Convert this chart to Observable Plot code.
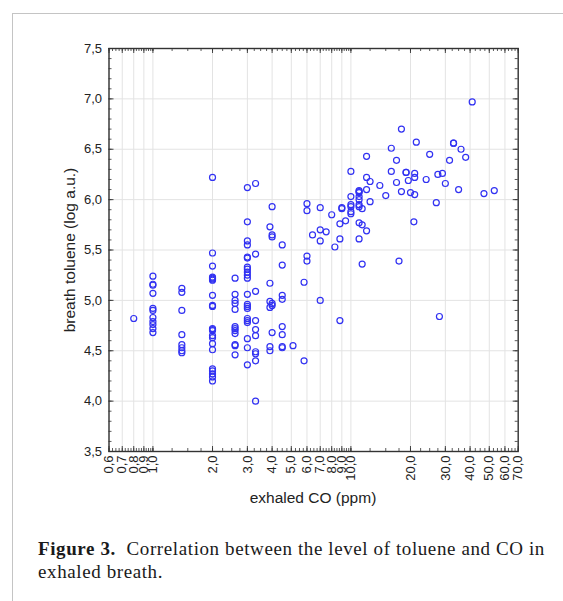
<!DOCTYPE html>
<html><head><meta charset="utf-8">
<script src="https://cdn.jsdelivr.net/npm/d3@7"></script>
<script src="https://cdn.jsdelivr.net/npm/@observablehq/plot@0.6"></script>
<style>
body{margin:0;background:#fff;}
#wrap{position:relative;width:563px;height:601px;overflow:hidden;background:#fff;}
#border{position:absolute;left:12px;top:13px;width:620px;height:700px;border-left:1px solid #c4c4c4;border-top:1px solid #c4c4c4;}
#chart{position:absolute;left:0;top:0;}
#caption{position:absolute;left:38px;top:537px;white-space:nowrap;font-family:"Liberation Serif","Times New Roman",serif;font-size:19px;letter-spacing:0.6px;line-height:23px;color:#1a1a1a;}
</style></head><body>
<div id="wrap"><div id="border"></div><div id="chart"></div>
<div id="caption"><b>Figure 3.</b>&nbsp; Correlation between the level of toluene and CO in<br>exhaled breath.</div></div>
<script>
// exhaled CO (ppm)
const coPpm = [
  0.8,
  1,1,1,1,1,1,1,1,1,1,1,
  1.4,1.4,1.4,1.4,1.4,1.4,1.4,1.4,
  2,2,2,2,2,2,2,2,2,2,2,2,2,2,2,2,2,2,2,2,2,2,
  2.6,2.6,2.6,2.6,2.6,2.6,2.6,2.6,2.6,2.6,2.6,2.6,
  3,3,3,3,3,3,3,3,3,3,3,3,3,3,3,3,3,3,3,3,3,
  3.3,3.3,3.3,3.3,3.3,3.3,3.3,3.3,3.3,3.3,
  3.9,3.9,3.9,3.9,3.9,3.9,
  4,4,4,4,4,4,
  4.5,4.5,4.5,4.5,4.5,4.5,4.5,4.5,
  5.1,
  5.8,5.8,
  6,6,6,6,
  6.4,
  7,7,7,7,
  7.5, 8, 8.3,
  8.8,8.8,8.8,
  9,9, 9.4,
  10,10,10,10,10,10,
  11,11,11,11,11,11,11,11,11,
  11.4,11.4,11.4,
  12,12,12,12,
  12.5,12.5,
  14, 15, 16,16, 17,17, 17.5, 18,18, 19,19, 19.5, 20,
  21,21,21, 20.8, 21.4, 24, 25, 27, 27.5, 28, 29, 30, 31.5,
  33,33, 35, 36, 38, 41, 47, 53
];
// breath toluene (log a.u.)
const toluene = [
  4.82,
  5.24,5.16,5.15,5.07,4.92,4.90,4.83,4.79,4.76,4.72,4.68,
  5.12,5.08,4.90,4.66,4.56,4.53,4.50,4.48,
  6.22,5.47,5.34,5.23,5.22,5.21,5.20,5.05,4.95,4.94,4.72,4.71,4.70,4.65,4.63,4.57,4.51,4.32,4.30,4.27,4.24,4.20,
  5.22,5.06,5.00,4.97,4.91,4.74,4.72,4.70,4.67,4.56,4.55,4.46,
  6.12,5.78,5.59,5.55,5.43,5.42,5.33,5.31,5.28,5.25,5.22,5.06,4.96,4.94,4.92,4.82,4.80,4.78,4.62,4.53,4.36,
  6.16,5.46,5.09,4.80,4.71,4.65,4.49,4.47,4.40,4.00,
  5.73,5.17,4.99,4.93,4.54,4.50,
  5.93,5.65,5.63,4.97,4.95,4.68,
  5.55,5.35,5.05,5.01,4.74,4.66,4.54,4.53,
  4.55,
  5.18,4.40,
  5.96,5.89,5.44,5.39,
  5.65,
  5.92,5.70,5.59,5.00,
  5.68, 5.85, 5.53,
  5.61,4.80,5.76,
  5.92,5.91, 5.79,
  6.28,6.03,5.95,5.93,5.88,5.86,
  6.09,6.08,6.07,6.03,6.00,5.95,5.93,5.77,5.61,
  5.91,5.75,5.36,
  6.43,6.22,6.10,5.69,
  6.18,5.98,
  6.14, 6.04, 6.51,6.28, 6.39,6.17, 5.39, 6.70,6.08, 6.27,6.27, 6.19, 6.07,
  6.26,6.22,6.05, 5.78, 6.57, 6.20, 6.45, 5.97, 6.25, 4.84, 6.26, 6.16, 6.39,
  6.56,6.56, 6.10, 6.50, 6.42, 6.97, 6.06, 6.09
];
const xTickValues = [0.6,0.7,0.8,0.9,1,2,3,4,5,6,7,8,9,10,20,30,40,50,60,70];
const yTickValues = [3.5,4,4.5,5,5.5,6,6.5,7,7.5];
const xTitle = "exhaled CO (ppm)";
const yTitle = "breath toluene (log a.u.)";

const data = coPpm.map((x, i) => ({co: x, tol: toluene[i]}));
const fmt = d => d.toFixed(1).replace(".", ",");
const minorX = [...d3.range(0.6, 1.0001, 0.025), ...d3.range(1, 10.0001, 0.25), ...d3.range(10, 70.001, 2.5)];
const minorY = d3.range(3.5, 7.5001, 0.1);

const W = 563, H = 525, mL = 108.5, mR = 45.3, mT = 48, mB = 74;
const pw = W - mL - mR, ph = H - mT - mB;
const tickColor = "#333";

const plot = Plot.plot({
  width: W, height: H,
  marginLeft: mL, marginRight: mR, marginTop: mT, marginBottom: mB,
  x: {type: "log", domain: [0.6, 70], axis: null},
  y: {domain: [3.5, 7.5]},
  style: {fontFamily: "'Liberation Sans', Arial, sans-serif", fontSize: "13px", color: "#222", background: "transparent", overflow: "visible"},
  marks: [
    Plot.gridX(xTickValues, {stroke: "#e3e3e3", strokeOpacity: 1, strokeWidth: 1}),
    Plot.gridY(yTickValues, {stroke: "#e3e3e3", strokeOpacity: 1, strokeWidth: 1}),
    Plot.ruleX(minorX, {x: d => d, insetTop: ph - 3, stroke: tickColor, strokeWidth: 0.8}),
    Plot.ruleX(minorX, {x: d => d, insetBottom: ph - 3, stroke: tickColor, strokeWidth: 0.8}),
    Plot.ruleX(xTickValues, {x: d => d, insetTop: ph - 5, stroke: tickColor, strokeWidth: 0.9}),
    Plot.ruleX(xTickValues, {x: d => d, insetBottom: ph - 5, stroke: tickColor, strokeWidth: 0.9}),
    Plot.ruleY(minorY, {y: d => d, insetRight: pw - 3, stroke: tickColor, strokeWidth: 0.8}),
    Plot.ruleY(minorY, {y: d => d, insetLeft: pw - 3, stroke: tickColor, strokeWidth: 0.8}),
    Plot.ruleY(yTickValues, {y: d => d, insetRight: pw - 5, stroke: tickColor, strokeWidth: 0.9}),
    Plot.ruleY(yTickValues, {y: d => d, insetLeft: pw - 5, stroke: tickColor, strokeWidth: 0.9}),
    Plot.frame({stroke: "#333", strokeWidth: 1.4}),
    Plot.axisY(yTickValues, {tickSize: 0, tickPadding: 7, tickFormat: fmt, label: null}),
    Plot.text(xTickValues, {x: d => d, frameAnchor: "bottom", text: fmt, rotate: -90,
      textAnchor: "end", lineAnchor: "middle", dy: 4, fill: "#222", fontSize: 13}),
    Plot.dot(data, {x: "co", y: "tol", r: 3, stroke: "#3131f2", strokeWidth: 1.2, fill: "none"})
  ]
});

const svg = d3.select(plot);
svg.append("text")
  .attr("transform", "translate(69,250) rotate(-90)")
  .attr("text-anchor", "middle").attr("dominant-baseline", "central")
  .attr("fill", "#222").style("font-size", "15.5px").text(yTitle);
svg.append("text")
  .attr("x", 313).attr("y", 503).attr("text-anchor", "middle")
  .attr("fill", "#222").style("font-size", "15.5px").text(xTitle);

document.getElementById("chart").appendChild(plot);
</script>
</body></html>
